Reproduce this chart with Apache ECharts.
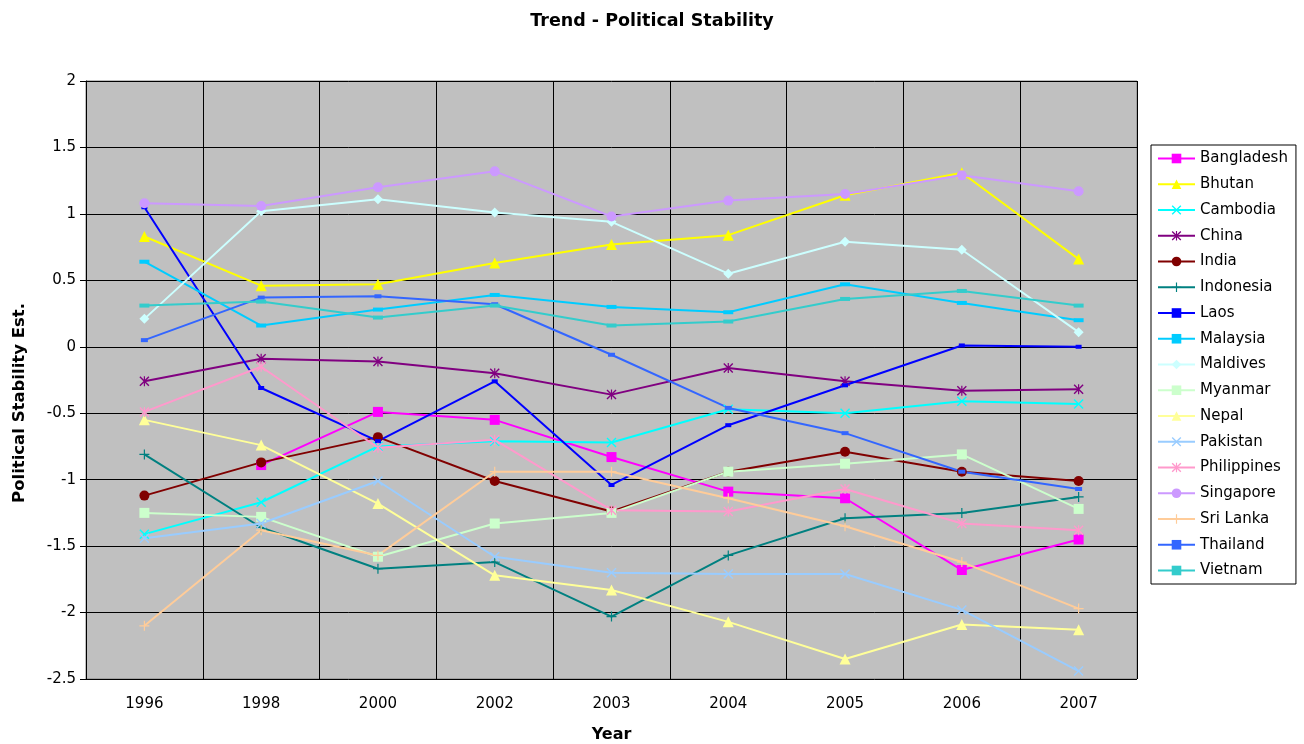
<!DOCTYPE html>
<html>
<head>
<meta charset="utf-8">
<title>Trend - Political Stability</title>
<script src="https://cdn.jsdelivr.net/npm/echarts@6/dist/echarts.min.js"></script>
<style>
  html, body { margin: 0; padding: 0; background: #ffffff; }
  #chart { width: 1304px; height: 744px; }
</style>
</head>
<body>
<div id="chart"></div>
<script>
// Years on the category axis
const years = ['1996', '1998', '2000', '2002', '2003', '2004', '2005', '2006', '2007'];

// Political stability estimates per country
const bangladesh  = [null, -0.89, -0.49, -0.55, -0.83, -1.09, -1.14, -1.68, -1.45];
const bhutan      = [0.83, 0.46, 0.47, 0.63, 0.77, 0.84, 1.14, 1.31, 0.66];
const cambodia    = [-1.41, -1.17, -0.75, -0.71, -0.72, -0.47, -0.50, -0.41, -0.43];
const china       = [-0.26, -0.09, -0.11, -0.20, -0.36, -0.16, -0.26, -0.33, -0.32];
const india       = [-1.12, -0.87, -0.68, -1.01, -1.24, -0.94, -0.79, -0.94, -1.01];
const indonesia   = [-0.81, -1.36, -1.67, -1.62, -2.03, -1.57, -1.29, -1.25, -1.13];
const laos        = [1.05, -0.31, -0.71, -0.26, -1.04, -0.59, -0.29, 0.01, 0.00];
const malaysia    = [0.64, 0.16, 0.28, 0.39, 0.30, 0.26, 0.47, 0.33, 0.20];
const maldives    = [0.21, 1.02, 1.11, 1.01, 0.94, 0.55, 0.79, 0.73, 0.11];
const myanmar     = [-1.25, -1.28, -1.58, -1.33, -1.25, -0.94, -0.88, -0.81, -1.22];
const nepal       = [-0.55, -0.74, -1.18, -1.72, -1.83, -2.07, -2.35, -2.09, -2.13];
const pakistan    = [-1.44, -1.33, -1.01, -1.58, -1.70, -1.71, -1.71, -1.98, -2.44];
const philippines = [-0.49, -0.15, -0.76, -0.70, -1.23, -1.24, -1.07, -1.33, -1.38];
const singapore   = [1.08, 1.06, 1.20, 1.32, 0.98, 1.10, 1.15, 1.29, 1.17];
const sriLanka    = [-2.10, -1.38, -1.57, -0.94, -0.94, -1.14, -1.35, -1.62, -1.97];
const thailand    = [0.05, 0.37, 0.38, 0.32, -0.06, -0.46, -0.65, -0.94, -1.07];
const vietnam     = [0.31, 0.34, 0.22, 0.31, 0.16, 0.19, 0.36, 0.42, 0.31];

// Value axis range and step
const yMin = -2.5, yMax = 2, yStep = 0.5;

// Marker shapes
const X_SHAPE = 'path://M0,1 L1,0 L5,4 L9,0 L10,1 L6,5 L10,9 L9,10 L5,6 L1,10 L0,9 L4,5 Z';
const PLUS_SHAPE = 'path://M4.4,0 H5.6 V4.4 H10 V5.6 H5.6 V10 H4.4 V5.6 H0 V4.4 H4.4 Z';
const STAR_SHAPE = 'path://M0,1 L1,0 L5,4 L9,0 L10,1 L6,5 L10,9 L9,10 L5,6 L1,10 L0,9 L4,5 Z M4.4,0 H5.6 V10 H4.4 Z';

const seriesDefs = [
  { name: 'Bangladesh',  data: bangladesh,  color: '#FF00FF', symbol: 'rect',      size: 10 },
  { name: 'Bhutan',      data: bhutan,      color: '#FFFF00', symbol: 'triangle',  size: 11 },
  { name: 'Cambodia',    data: cambodia,    color: '#00FFFF', symbol: X_SHAPE,     size: 10 },
  { name: 'China',       data: china,       color: '#800080', symbol: STAR_SHAPE,  size: 10 },
  { name: 'India',       data: india,       color: '#800000', symbol: 'circle',    size: 10 },
  { name: 'Indonesia',   data: indonesia,   color: '#008080', symbol: PLUS_SHAPE,  size: 10 },
  { name: 'Laos',        data: laos,        color: '#0000FF', symbol: 'rect',      size: [6, 4] },
  { name: 'Malaysia',    data: malaysia,    color: '#00CCFF', symbol: 'rect',      size: [10, 4] },
  { name: 'Maldives',    data: maldives,    color: '#CCFFFF', symbol: 'diamond',   size: 10 },
  { name: 'Myanmar',     data: myanmar,     color: '#CCFFCC', symbol: 'rect',      size: 10 },
  { name: 'Nepal',       data: nepal,       color: '#FFFF99', symbol: 'triangle',  size: 11 },
  { name: 'Pakistan',    data: pakistan,    color: '#99CCFF', symbol: X_SHAPE,     size: 10 },
  { name: 'Philippines', data: philippines, color: '#FF99CC', symbol: STAR_SHAPE,  size: 10 },
  { name: 'Singapore',   data: singapore,   color: '#CC99FF', symbol: 'circle',    size: 10 },
  { name: 'Sri Lanka',   data: sriLanka,    color: '#FFCC99', symbol: PLUS_SHAPE,  size: 10 },
  { name: 'Thailand',    data: thailand,    color: '#3366FF', symbol: 'rect',      size: [7, 4] },
  { name: 'Vietnam',     data: vietnam,     color: '#33CCCC', symbol: 'rect',      size: [10, 4] }
];

const FONT = '"DejaVu Sans", "Liberation Sans", Arial, sans-serif';

const chart = echarts.init(document.getElementById('chart'), null, { renderer: 'canvas' });

chart.setOption({
  animation: false,
  backgroundColor: '#ffffff',
  title: {
    text: 'Trend - Political Stability',
    left: 'center',
    top: 7,
    textStyle: { fontFamily: FONT, fontSize: 17.5, fontWeight: 'bold', color: '#000' }
  },
  grid: {
    left: 86, right: 167, top: 81, bottom: 65,
    outerBoundsMode: 'none',
    containLabel: false,
    show: true,
    backgroundColor: '#C0C0C0',
    borderColor: '#808080',
    borderWidth: 1
  },
  legend: {
    orient: 'vertical',
    left: 1151,
    top: 145,
    padding: [6, 8, 6, 6],
    itemWidth: 37,
    itemHeight: 12,
    itemGap: 10.75,
    borderColor: '#000',
    borderWidth: 1,
    backgroundColor: '#ffffff',
    textStyle: { fontFamily: FONT, fontSize: 15, color: '#000' },
    data: seriesDefs.map(s => s.name)
  },
  xAxis: {
    type: 'category',
    data: years,
    boundaryGap: true,
    name: 'Year',
    nameLocation: 'middle',
    nameGap: 48,
    nameTextStyle: { fontFamily: FONT, fontSize: 16, fontWeight: 'bold', color: '#000' },
    axisLine: { show: true, lineStyle: { color: '#000', width: 1 } },
    axisTick: { show: true, alignWithLabel: false, length: 7, lineStyle: { color: '#000' } },
    axisLabel: { fontFamily: FONT, fontSize: 15, color: '#000', margin: 18 },
    splitLine: { show: true, lineStyle: { color: '#000', width: 1 } }
  },
  yAxis: {
    type: 'value',
    min: yMin,
    max: yMax,
    interval: yStep,
    name: 'Political Stability Est.',
    nameLocation: 'middle',
    nameGap: 58,
    nameRotate: 90,
    nameTextStyle: {
      fontFamily: FONT, fontSize: 16.5, fontWeight: 'bold', color: '#000',
      padding: [0, 46, 0, 0]
    },
    axisLine: { show: true, lineStyle: { color: '#000', width: 1 } },
    axisTick: { show: true, length: 6, lineStyle: { color: '#000' } },
    axisLabel: { fontFamily: FONT, fontSize: 15, color: '#000', margin: 10 },
    splitLine: { show: true, lineStyle: { color: '#000', width: 1 } }
  },
  series: seriesDefs.map(s => ({
    name: s.name,
    type: 'line',
    data: s.data,
    symbol: s.symbol,
    symbolSize: s.size,
    showAllSymbol: true,
    connectNulls: false,
    lineStyle: { color: s.color, width: 2 },
    itemStyle: { color: s.color, borderWidth: 0 },
    emphasis: { disabled: true }
  }))
});
</script>
</body>
</html>
